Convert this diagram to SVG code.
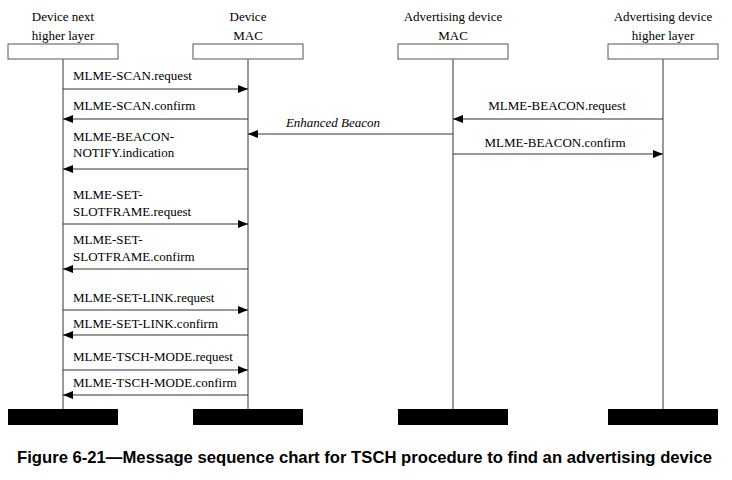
<svg xmlns="http://www.w3.org/2000/svg" width="732" height="480" viewBox="0 0 732 480">
<style>
.t{font-family:"Liberation Serif","Times New Roman",serif;font-size:13px;fill:#000}
.h{text-anchor:middle}
.box{fill:#fff;stroke:#555;stroke-width:1}
.bar{fill:#000}
.life{stroke:#777;stroke-width:1.5}
.msg{stroke:#333;stroke-width:1;fill:none;marker-end:url(#ah)}
.cap{font-family:"Liberation Sans",Arial,sans-serif;font-size:17px;font-weight:bold;fill:#000}
</style>
<defs>
<marker id="ah" viewBox="0 0 10 8" refX="10" refY="4" markerWidth="10" markerHeight="8" markerUnits="userSpaceOnUse" orient="auto">
<path d="M0,0 L10,4 L0,8 Z" fill="#000"/>
</marker>
</defs>
<rect width="732" height="480" fill="#fff"/>
<g id="n1">
<text class="t h" x="63" y="21">Device next</text>
<text class="t h" x="63" y="40">higher layer</text>
<rect class="box" x="8" y="44" width="110" height="15"/>
<line class="life" x1="63" y1="59" x2="63" y2="409"/>
<rect class="bar" x="8" y="409" width="110" height="16"/>
</g>
<g id="n2">
<text class="t h" x="248" y="21">Device</text>
<text class="t h" x="248" y="40">MAC</text>
<rect class="box" x="193" y="44" width="110" height="15"/>
<line class="life" x1="248" y1="59" x2="248" y2="409"/>
<rect class="bar" x="193" y="409" width="110" height="16"/>
</g>
<g id="n3">
<text class="t h" x="453" y="21">Advertising device</text>
<text class="t h" x="453" y="40">MAC</text>
<rect class="box" x="398" y="44" width="110" height="15"/>
<line class="life" x1="453" y1="59" x2="453" y2="409"/>
<rect class="bar" x="398" y="409" width="110" height="16"/>
</g>
<g id="n4">
<text class="t h" x="663" y="21">Advertising device</text>
<text class="t h" x="663" y="40">higher layer</text>
<rect class="box" x="608" y="44" width="110" height="15"/>
<line class="life" x1="663" y1="59" x2="663" y2="409"/>
<rect class="bar" x="608" y="409" width="110" height="16"/>
</g>
<g id="connectors">
<line class="msg" x1="63" y1="89" x2="248" y2="89"/>
<line class="msg" x1="248" y1="119" x2="63" y2="119"/>
<line class="msg" x1="663" y1="119" x2="453" y2="119"/>
<line class="msg" x1="453" y1="134" x2="248" y2="134"/>
<line class="msg" x1="453" y1="154" x2="663" y2="154"/>
<line class="msg" x1="248" y1="169" x2="63" y2="169"/>
<line class="msg" x1="63" y1="224" x2="248" y2="224"/>
<line class="msg" x1="248" y1="269" x2="63" y2="269"/>
<line class="msg" x1="63" y1="310" x2="248" y2="310"/>
<line class="msg" x1="248" y1="335" x2="63" y2="335"/>
<line class="msg" x1="63" y1="370" x2="248" y2="370"/>
<line class="msg" x1="248" y1="395" x2="63" y2="395"/>
</g>
<g id="labels">
<text class="t" x="73" y="80">MLME-SCAN.request</text>
<text class="t" x="73" y="110">MLME-SCAN.confirm</text>
<text class="t h" x="557" y="110">MLME-BEACON.request</text>
<text class="t h" x="333" y="127" font-style="italic">Enhanced Beacon</text>
<text class="t h" x="555" y="147">MLME-BEACON.confirm</text>
<text class="t" x="73" y="141">MLME-BEACON-</text>
<text class="t" x="73" y="157">NOTIFY.indication</text>
<text class="t" x="73" y="199">MLME-SET-</text>
<text class="t" x="73" y="216">SLOTFRAME.request</text>
<text class="t" x="73" y="244">MLME-SET-</text>
<text class="t" x="73" y="261">SLOTFRAME.confirm</text>
<text class="t" x="73" y="302">MLME-SET-LINK.request</text>
<text class="t" x="73" y="328">MLME-SET-LINK.confirm</text>
<text class="t" x="73" y="361">MLME-TSCH-MODE.request</text>
<text class="t" x="73" y="387">MLME-TSCH-MODE.confirm</text>
</g>
<text class="cap" x="364.5" y="463" text-anchor="middle" textLength="695" lengthAdjust="spacingAndGlyphs">Figure 6-21—Message sequence chart for TSCH procedure to find an advertising device</text>
</svg>
